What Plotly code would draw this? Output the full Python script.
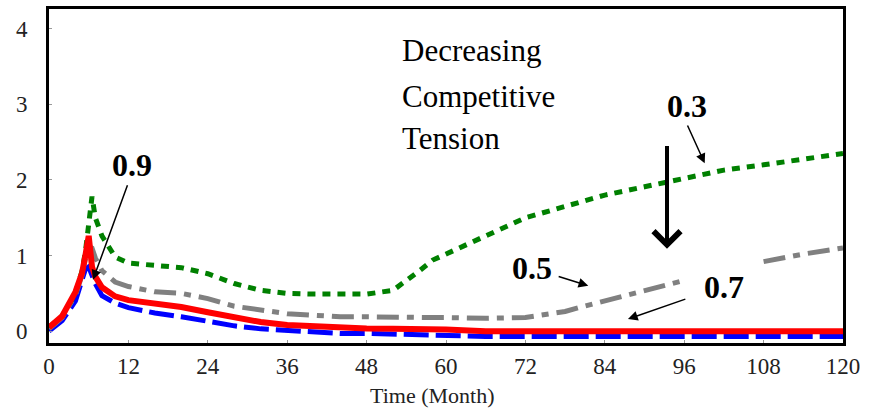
import plotly.graph_objects as go

# ---- data ----
months = [0, 2, 4, 5, 5.5, 6, 6.5, 7, 8, 10, 12, 16, 20, 24, 28, 32, 36, 40, 44, 48,
          52, 54, 56, 58, 60, 66, 72, 76, 78, 80, 84, 90, 96, 102, 108, 114, 120]

tension_03 = [0.05, 0.2, 0.5, 0.8, 1.05, 1.4, 1.78, 1.5, 1.26, 0.98, 0.9, 0.87, 0.84, 0.76, 0.63,
              0.54, 0.5, 0.49, 0.49, 0.49, 0.54, 0.66, 0.8, 0.94, 1.02, 1.27, 1.5, 1.6, 1.65,
              1.7, 1.8, 1.91, 2.02, 2.13, 2.2, 2.28, 2.35]

tension_05 = [0.03, 0.18, 0.48, 0.74, 0.95, 1.12, 1.1, 0.97, 0.8, 0.65, 0.59, 0.52, 0.5, 0.43, 0.33,
              0.28, 0.23, 0.21, 0.19, 0.19, 0.18, 0.18, 0.18, 0.18, 0.18, 0.17, 0.18, 0.23, 0.26,
              0.31, 0.4, 0.55, 0.67, None, 0.92, 1.02, 1.1]

tension_07 = [0.05, 0.2, 0.52, 0.77, 1.0, 1.26, 0.85, 0.72, 0.58, 0.46, 0.41, 0.37, 0.32, 0.25, 0.18,
              0.12, 0.08, 0.06, 0.04, 0.035, 0.03, 0.03, 0.03, 0.03, 0.02, 0.0, 0.0, 0.0, 0.0,
              0.0, 0.0, 0.0, 0.0, 0.0, 0.0, 0.0, 0.0]

tension_09 = [0.0, 0.14, 0.4, 0.67, 0.82, 0.85, 0.72, 0.63, 0.47, 0.37, 0.31, 0.24, 0.19, 0.13, 0.07,
              0.03, 0.01, -0.01, -0.03, -0.03, -0.04, -0.04, -0.05, -0.05, -0.07, -0.07, -0.07,
              -0.07, -0.07, -0.07, -0.07, -0.07, -0.07, -0.07, -0.07, -0.07, -0.07]

x_ticks = [0, 12, 24, 36, 48, 60, 72, 84, 96, 108, 120]
y_ticks = [0, 1, 2, 3, 4]

SERIF = "Liberation Serif, Times New Roman, serif"

fig = go.Figure()
fig.add_trace(go.Scatter(x=months, y=tension_09, mode="lines", name="0.9",
                         line=dict(color="#0000ff", width=5, dash="25px,7px")))
fig.add_trace(go.Scatter(x=months, y=tension_05, mode="lines", name="0.5", connectgaps=False,
                         line=dict(color="#808080", width=5, dash="22px,8px,7px,8px")))
fig.add_trace(go.Scatter(x=months, y=tension_03, mode="lines", name="0.3",
                         line=dict(color="#008000", width=5, dash="8px,7px")))
fig.add_trace(go.Scatter(x=months, y=tension_07, mode="lines", name="0.7",
                         line=dict(color="#ff0000", width=6)))

anns = []
# main text
for txt, yv in [("Decreasing", 3.71), ("Competitive", 3.11), ("Tension", 2.55)]:
    anns.append(dict(x=53.0, y=yv, xref="x", yref="y", text=txt, showarrow=False,
                     xanchor="left", yanchor="middle",
                     font=dict(family=SERIF, size=31, color="black")))
# bold labels
for txt, xv, yv in [("0.9", 12.54, 2.2), ("0.3", 96.4, 2.98), ("0.5", 73.0, 0.83), ("0.7", 102.0, 0.58)]:
    anns.append(dict(x=xv, y=yv, xref="x", yref="y", text="<b>%s</b>" % txt, showarrow=False,
                     xanchor="center", yanchor="middle",
                     font=dict(family=SERIF, size=32, color="black")))
# thin arrows
for (tx, ty, hx, hy) in [(11.94, 1.95, 6.65, 0.68), (96.4, 2.74, 99.1, 2.22),
                         (76.8, 0.73, 81.5, 0.6), (96.4, 0.43, 87.5, 0.16)]:
    anns.append(dict(x=hx, y=hy, ax=tx, ay=ty, xref="x", yref="y", axref="x", ayref="y",
                     text="", showarrow=True, arrowhead=2, arrowsize=1.3, arrowwidth=1.5,
                     arrowcolor="black"))
# big arrow
anns.append(dict(x=93.4, y=1.09, ax=93.4, ay=2.47, xref="x", yref="y", axref="x", ayref="y",
                 text="", showarrow=True, arrowhead=4, arrowsize=1.3, arrowwidth=4,
                 arrowcolor="black"))
# x-axis title (placed left of centre as in the reference)
anns.append(dict(x=57.9, y=-0.156, xref="x", yref="paper", text="Time (Month)", showarrow=False,
                 xanchor="center", yanchor="middle",
                 font=dict(family=SERIF, size=22, color="#222")))

fig.update_layout(
    width=875, height=410,
    margin=dict(l=49, r=32, t=6, b=67),
    paper_bgcolor="white", plot_bgcolor="white",
    showlegend=False,
    annotations=anns,
    xaxis=dict(range=[0, 120], tickvals=x_ticks, ticktext=[str(v) for v in x_ticks],
               showgrid=False, zeroline=False, showline=True, linecolor="black", linewidth=3,
               mirror=True, ticks="inside", ticklen=3, tickcolor="#999",
               tickfont=dict(family=SERIF, size=23, color="#222")),
    yaxis=dict(range=[-0.157, 4.262], tickvals=y_ticks, ticktext=[str(v) for v in y_ticks],
               showgrid=False, zeroline=False, showline=True, linecolor="black", linewidth=3,
               mirror=True, ticks="inside", ticklen=3, tickcolor="#999",
               ticklabelstandoff=14,
               tickfont=dict(family=SERIF, size=23, color="#222")),
)

fig.write_html("out.html")
